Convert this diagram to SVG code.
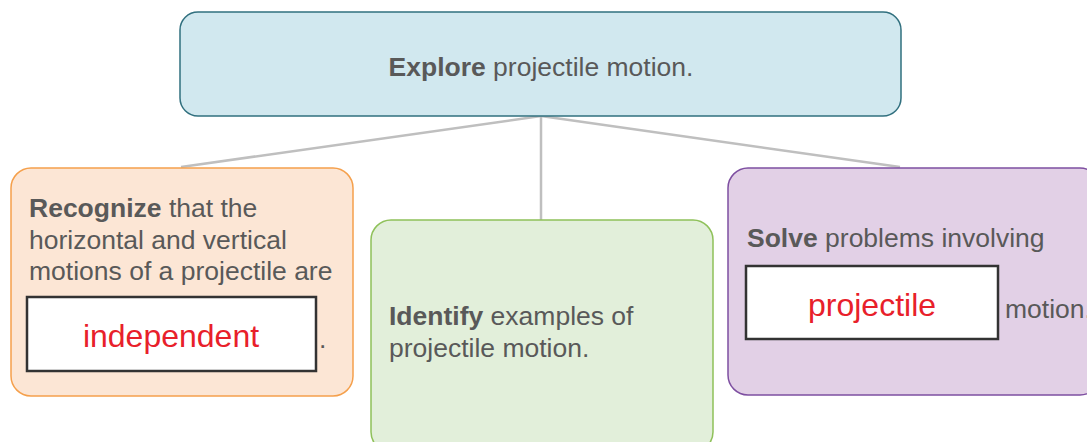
<svg xmlns="http://www.w3.org/2000/svg" width="1087" height="442" viewBox="0 0 1087 442">
<style>
.t{font-family:"Liberation Sans",Arial,sans-serif;font-size:26.5px;fill:#595959}
.b{font-weight:bold}
.ans{font-family:"Liberation Sans",Arial,sans-serif;font-size:32px;fill:#e8202a;text-anchor:middle}
.blank{fill:#ffffff;stroke:#333333;stroke-width:2.5}
.conn{stroke:#bfbfbf;stroke-width:2.5;fill:none}
</style>
<rect width="1087" height="442" fill="#ffffff"/>
<g id="connectors">
<line class="conn" x1="541" y1="116" x2="181" y2="167"/>
<line class="conn" x1="541" y1="116" x2="541" y2="220"/>
<line class="conn" x1="541" y1="116" x2="900" y2="167"/>
</g>
<g id="node-explore">
<rect x="180" y="12" width="721" height="104" rx="18" fill="#d1e8ef" stroke="#31707f" stroke-width="1.5"/>
<text class="t" x="541" y="76" text-anchor="middle"><tspan class="b">Explore</tspan> projectile motion.</text>
</g>
<g id="node-recognize">
<rect x="11" y="168" width="342" height="228" rx="20" fill="#fce6d5" stroke="#f5a04c" stroke-width="1.5"/>
<text class="t" x="29" y="217"><tspan class="b">Recognize</tspan> that the</text>
<text class="t" x="29" y="249">horizontal and vertical</text>
<text class="t" x="29" y="280">motions of a projectile are</text>
<rect class="blank" x="27" y="297" width="289" height="74"/>
<text class="ans" x="171" y="347">independent</text>
<text class="t" x="319" y="348">.</text>
</g>
<g id="node-identify">
<rect x="371" y="220" width="342" height="232" rx="20" fill="#e2efda" stroke="#8fc15a" stroke-width="1.5"/>
<text class="t" x="389" y="325"><tspan class="b">Identify</tspan> examples of</text>
<text class="t" x="389" y="357">projectile motion.</text>
</g>
<g id="node-solve">
<rect x="728" y="168" width="372" height="227" rx="20" fill="#e2d0e6" stroke="#7e4fa1" stroke-width="1.5"/>
<text class="t" x="747" y="247"><tspan class="b">Solve</tspan> problems involving</text>
<rect class="blank" x="746" y="266" width="252" height="73"/>
<text class="ans" x="872" y="316">projectile</text>
<text class="t" x="1005" y="318">motion.</text>
</g>
</svg>
